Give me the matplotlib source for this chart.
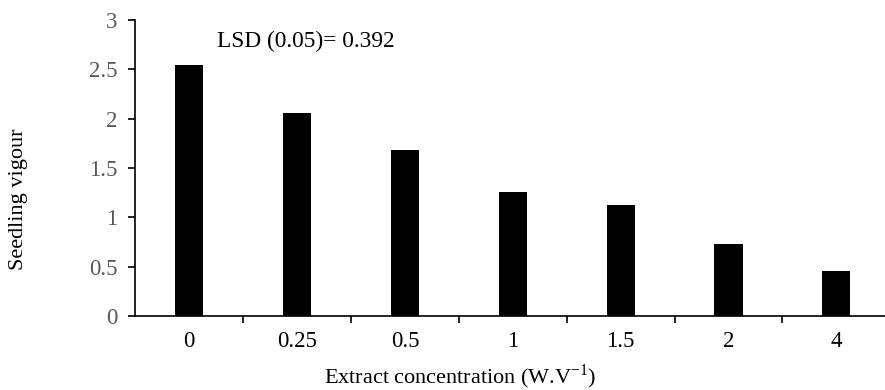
import matplotlib
matplotlib.use("Agg")
import matplotlib.pyplot as plt
from matplotlib.ticker import FixedLocator, NullFormatter

# Données
categories = ["0", "0.25", "0.5", "1", "1.5", "2", "4"]
vigour = [2.54, 2.06, 1.68, 1.26, 1.12, 0.73, 0.46]
lsd_text = "LSD (0.05)= 0.392"

W, H = 885, 390
plt.rcParams["font.family"] = ["Liberation Serif", "DejaVu Serif"]
plt.rcParams["mathtext.fontset"] = "custom"
plt.rcParams["mathtext.rm"] = "Liberation Serif"

fig = plt.figure(figsize=(W / 100, H / 100), dpi=100)
# axes : x 135 -> 890 px, y 20 -> 316 px
ax = fig.add_axes([135.3 / W, 1 - 316 / H, 755 / W, 296 / H])

x = range(len(categories))
ax.bar(x, vigour, width=0.26, color="black")

ax.set_xlim(-0.5, len(categories) - 0.5)
ax.set_ylim(0, 3)
ax.set_yticks([0, 0.5, 1, 1.5, 2, 2.5, 3])
ax.set_yticklabels(["0", "0.5", "1", "1.5", "2", "2.5", "3"])
ax.set_xticks(list(x))
ax.set_xticklabels(categories)
ax.xaxis.set_minor_locator(FixedLocator([i + 0.5 for i in range(len(categories) - 1)]))
ax.xaxis.set_minor_formatter(NullFormatter())

for s in ("top", "right"):
    ax.spines[s].set_visible(False)
for s in ("left", "bottom"):
    ax.spines[s].set_linewidth(1.2)
    ax.spines[s].set_color("black")

ax.tick_params(axis="x", which="major", length=0, pad=11, labelsize=16.5, labelcolor="black")
ax.tick_params(axis="x", which="minor", length=5, width=1.2, direction="out")
ax.tick_params(axis="y", length=5, width=1.2, direction="out", pad=8,
               labelsize=16.5, labelcolor="#595959")

fig.text(460 / W, 1 - 383 / H, r"Extract concentration (W.V$^{\mathrm{-1}}$)",
         ha="center", va="baseline", fontsize=16)
fig.text(19 / W, 1 - 199 / H, "Seedling vigour", rotation=90,
         ha="center", va="center", fontsize=16)
fig.text(217 / W, 1 - 47 / H, lsd_text, ha="left", va="baseline", fontsize=16.8)

fig.savefig("out.png", dpi=100)
